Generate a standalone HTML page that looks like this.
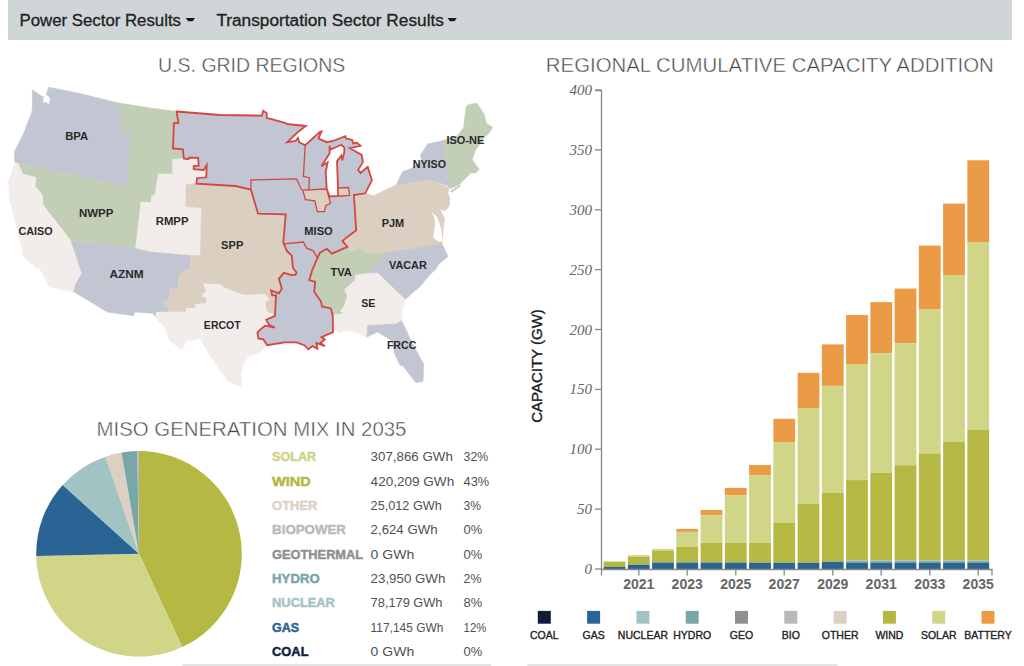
<!DOCTYPE html>
<html><head><meta charset="utf-8"><style>
html,body{margin:0;padding:0;background:#fff;width:1024px;height:666px;overflow:hidden;}
body{position:relative;font-family:"Liberation Sans",sans-serif;}
.nav{position:absolute;left:8px;top:0;width:1004px;height:40px;background:#d0d5d8;}
svg{position:absolute;left:0;top:0;}
.ml{font-family:"Liberation Sans",sans-serif;font-weight:bold;font-size:11px;fill:#2a2a2a;text-anchor:middle;}
.yt{font-family:"Liberation Serif",serif;font-style:italic;font-size:15px;fill:#666;text-anchor:end;}
.xt{font-family:"Liberation Sans",sans-serif;font-weight:bold;font-size:14px;fill:#666;text-anchor:middle;}
.lt{font-family:"Liberation Sans",sans-serif;font-size:10.5px;fill:#222;stroke:#222;stroke-width:0.35;text-anchor:middle;}
.tl{font-family:"Liberation Sans",sans-serif;font-weight:bold;font-size:12.6px;}
.tv{font-family:"Liberation Sans",sans-serif;font-size:13px;fill:#505050;}
.ttl{font-family:"Liberation Sans",sans-serif;font-size:20px;fill:#444;stroke:#fff;stroke-width:0.45px;text-anchor:middle;}
.navt{font-family:"Liberation Sans",sans-serif;font-size:16px;fill:#222;stroke:#222;stroke-width:0.3;}
</style></head><body>
<div class="nav"></div>
<svg width="1024" height="666" viewBox="0 0 1024 666">
<text x="19.5" y="26.2" class="navt" id="nav1" textLength="161.5" lengthAdjust="spacingAndGlyphs">Power Sector Results</text>
<path d="M185.8,17.9 L195,17.9 L192.7,21.3 L188.1,21.3 Z" fill="#1a1a1a"/>
<text x="216.4" y="26.2" class="navt" id="nav2" textLength="227.5" lengthAdjust="spacingAndGlyphs">Transportation Sector Results</text>
<path d="M447.6,17.9 L456.8,17.9 L454.5,21.3 L449.9,21.3 Z" fill="#1a1a1a"/>
<text x="251.7" y="71.9" class="ttl" id="t1" textLength="187.2" lengthAdjust="spacingAndGlyphs">U.S. GRID REGIONS</text>
<text x="769.8" y="71.7" class="ttl" id="t2" textLength="448" lengthAdjust="spacingAndGlyphs">REGIONAL CUMULATIVE CAPACITY ADDITION</text>
<text x="251.5" y="436.4" class="ttl" id="t3" textLength="309.8" lengthAdjust="spacingAndGlyphs">MISO GENERATION MIX IN 2035</text>
<text transform="translate(541.5,366) rotate(-90)" x="0" y="0" text-anchor="middle" style="font-family:'Liberation Sans',sans-serif;font-size:15px;fill:#1a1a1a;stroke:#1a1a1a;stroke-width:0.35;" id="ylab">CAPACITY (GW)</text>
<polygon points="32.4,89.9 42.5,96.5 45.5,97.5 48.6,87.2 80.0,93.5 116.2,102.5 122.5,116.9 119.8,120.5 124.3,134.0 131.5,133.2 133.3,139.5 128.8,142.2 129.7,159.3 126.1,187.2 14.9,162.0 14.4,152.0 23.4,134.0 31.5,113.0 32.4,108.8" fill="#c1c6d2" stroke="#c1c6d2" stroke-width="0.6"/><polygon points="116.2,102.5 150.0,108.0 176.6,111.5 178.4,123.2 173.9,123.2 173.0,148.5 182.9,149.4 183.8,158.4 172.5,159.5 172.8,174.0 158.4,174.0 154.8,195.3 151.8,195.9 150.9,202.8 141.0,202.2 135.7,248.5 71.2,241.2 43.2,205.3 42.0,194.4 34.8,186.0 36.0,177.6 22.8,174.0 18.0,163.2 14.9,162.0 126.1,187.2 129.7,159.3 128.8,142.2 133.3,139.5 131.5,133.2 124.3,134.0 119.8,120.5 122.5,116.9" fill="#c3ceb6" stroke="#c3ceb6" stroke-width="0.6"/><polygon points="18.0,163.2 22.8,174.0 36.0,177.6 34.8,186.0 42.0,194.4 43.2,205.3 71.2,241.2 82.0,273.6 76.0,283.2 73.6,291.7 49.6,286.8 40.0,268.8 36.0,267.7 22.8,255.7 21.6,246.0 15.6,222.0 13.2,212.5 9.6,200.4 8.4,181.2 10.8,175.2 14.4,165.0" fill="#f2edea" stroke="#f2edea" stroke-width="0.6"/><polygon points="172.5,159.5 183.8,158.4 188.3,159.3 189.2,157.5 198.2,157.8 198.7,165.6 193.7,166.1 193.7,169.2 203.6,170.1 206.7,165.0 206.3,177.3 196.9,178.2 196.4,183.6 186.0,184.8 186.0,206.5 201.6,207.7 200.4,255.7 190.2,255.6 150.0,252.1 135.7,248.5 141.0,202.2 150.9,202.8 151.8,195.9 154.8,195.3 158.4,174.0 172.8,174.0" fill="#f2edea" stroke="#f2edea" stroke-width="0.6"/><polygon points="71.2,241.2 135.7,248.5 150.0,252.1 190.2,255.6 190.2,268.8 185.3,270.0 179.3,274.8 178.1,288.0 169.7,289.2 168.5,300.0 163.7,301.3 164.9,306.0 168.5,307.3 168.5,312.0 156.5,312.0 155.3,316.9 152.9,313.3 134.9,312.0 133.7,315.7 107.3,312.0 73.6,291.7 76.0,283.2 82.0,273.6" fill="#c1c6d2" stroke="#c1c6d2" stroke-width="0.6"/><polygon points="186.0,184.8 196.4,183.6 235.3,186.0 250.9,189.6 258.1,213.7 285.7,214.4 283.3,242.5 286.9,250.9 291.7,255.7 292.9,267.7 296.5,272.5 295.5,274.9 290.6,274.9 283.8,272.9 278.9,278.8 281.8,288.6 278.9,293.4 271.1,290.5 272.1,295.4 276.0,295.4 275.0,315.9 266.2,311.0 265.2,302.2 269.1,299.3 265.2,294.4 245.7,295.4 235.9,292.5 224.2,287.6 220.3,284.6 203.7,283.7 206.6,292.5 202.7,293.4 202.7,296.4 206.6,297.3 206.6,303.2 195.9,304.2 194.9,308.1 186.1,308.1 186.1,312.0 168.5,312.0 168.5,307.3 164.9,306.0 163.7,301.3 168.5,300.0 169.7,289.2 178.1,288.0 179.3,274.8 185.3,270.0 190.2,268.8 190.2,255.6 200.4,255.7 201.6,207.7 186.0,206.5" fill="#dbcfc1" stroke="#dbcfc1" stroke-width="0.6"/><polygon points="156.5,312.0 168.5,312.0 186.1,312.0 186.1,308.1 194.9,308.1 195.9,304.2 206.6,303.2 206.6,297.3 202.7,296.4 202.7,293.4 206.6,292.5 203.7,283.7 220.3,284.6 224.2,287.6 235.9,292.5 245.7,295.4 265.2,294.4 269.1,299.3 265.2,302.2 266.2,311.0 275.0,315.9 266.2,319.8 269.1,324.7 275.0,327.6 265.2,325.7 261.3,328.6 257.4,332.5 258.4,338.4 263.3,339.3 267.2,345.2 259.4,352.0 247.7,356.9 242.8,365.7 240.8,375.5 241.8,387.2 228.1,381.3 219.3,369.6 208.6,353.0 200.0,338.5 186.5,340.9 181.7,349.3 169.7,340.9 164.9,327.7 155.3,316.9" fill="#f2edea" stroke="#f2edea" stroke-width="0.6"/><polygon points="353.9,195.1 365.3,193.3 373.6,195.7 383.2,190.9 396.5,184.9 433.8,179.5 438.3,183.3 449.2,187.8 447.9,192.9 449.8,198.0 449.2,205.7 446.6,209.5 444.1,210.8 439.6,208.8 444.7,219.1 443.4,227.4 442.1,241.4 442.1,244.6 388.4,252.7 365.9,253.7 361.0,247.9 355.2,250.8 350.3,251.8 347.4,246.9 342.5,241.0 344.5,239.1 356.2,230.3" fill="#dbcfc1" stroke="#dbcfc1" stroke-width="0.6"/><polygon points="396.5,184.9 400.1,176.5 402.5,171.7 412.1,168.1 421.7,160.9 420.5,154.9 427.7,144.1 443.3,140.4 445.7,159.7 449.3,172.9 450.5,188.5 448.1,186.1 430.1,179.4" fill="#c1c6d2" stroke="#c1c6d2" stroke-width="0.6"/><polygon points="443.3,140.4 457.7,135.6 463.7,127.2 466.1,106.8 468.5,104.4 476.9,103.2 484.1,114.0 486.5,123.6 492.6,127.2 490.1,132.0 484.1,138.0 475.7,150.1 472.1,159.7 479.3,169.3 475.7,172.9 470.9,172.9 458.9,184.9 450.5,188.5 449.3,172.9 445.7,159.7" fill="#c3ceb6" stroke="#c3ceb6" stroke-width="0.6"/><polygon points="347.4,246.9 350.3,251.8 355.2,250.8 361.0,247.9 365.9,253.7 388.4,252.7 376.7,262.5 368.9,273.2 355.2,275.2 355.2,280.1 344.5,289.8 347.4,295.7 344.5,305.5 340.5,311.3 345.4,313.3 332.7,315.2 330.8,308.4 322.0,306.4 321.0,301.6 314.2,291.8 315.2,282.0 309.3,280.1 312.2,270.3 317.1,258.6 320.0,252.7 326.9,248.8 331.8,253.7" fill="#c3ceb6" stroke="#c3ceb6" stroke-width="0.6"/><polygon points="388.4,252.7 442.1,243.9 448.0,256.6 438.2,264.5 436.3,268.4 428.4,276.2 420.6,285.9 405.0,299.6 377.7,273.2 368.9,273.2 376.7,262.5" fill="#c1c6d2" stroke="#c1c6d2" stroke-width="0.6"/><polygon points="355.2,275.2 368.9,273.2 377.7,273.2 405.0,299.6 402.4,309.8 401.6,320.5 396.6,323.9 367.7,325.5 366.9,337.1 357.8,332.9 346.2,330.5 338.8,332.9 336.3,329.6 333.0,332.1 332.7,315.2 345.4,313.3 340.5,311.3 344.5,305.5 347.4,295.7 344.5,289.8 355.2,280.1" fill="#f2edea" stroke="#f2edea" stroke-width="0.6"/><polygon points="367.7,325.5 396.6,323.9 401.6,320.5 409.0,336.2 415.6,349.4 423.8,364.3 423.0,381.6 415.6,382.5 403.2,366.0 399.9,365.1 394.1,352.7 392.5,341.2 377.6,332.1 366.9,337.1" fill="#c1c6d2" stroke="#c1c6d2" stroke-width="0.6"/><polygon points="430.7,212.0 433.8,215.9 435.1,223.5 433.8,233.7 433.2,237.6 438.3,241.6 442.3,241.6 441.5,229.9 439.6,223.5 437.0,217.1 434.0,214.0" fill="#fff"/><polygon points="43.5,97.5 47,95 50.5,98.5 48.5,104.5 46,101.5 43.5,103.5" fill="#fff"/><polygon points="450.0,191.5 459.5,185.0 461.5,185.5 452.0,192.5" fill="#c1c6d2"/><polygon points="176.6,111.5 220.0,115.0 262.0,115.6 263.2,110.8 266.8,113.2 266.8,118.0 271.7,119.2 284.9,122.8 287.3,124.0 305.8,126.0 298.0,132.0 287.2,142.2 295.6,141.0 298.0,138.0 299.2,142.2 305.2,145.2 319.7,132.0 321.5,131.4 318.5,138.6 326.9,142.2 332.9,141.0 345.5,136.2 346.1,138.6 352.1,139.8 353.3,143.4 356.9,142.8 360.5,145.8 349.7,148.2 361.7,154.9 362.9,162.1 358.1,169.9 360.5,172.9 367.7,166.9 371.9,180.1 365.3,193.3 353.9,195.1 356.2,230.3 344.5,239.1 342.5,241.0 347.4,246.9 331.8,253.7 326.9,248.8 320.0,252.7 317.1,258.6 312.2,270.3 309.3,280.1 315.2,282.0 314.2,291.8 321.0,301.6 322.0,306.4 330.8,308.4 332.7,315.2 333.0,332.1 321.5,337.1 324.8,339.5 320.6,342.8 324.8,346.1 316.5,342.8 317.3,348.6 312.4,346.1 308.3,349.4 304.3,345.2 296.5,342.3 284.8,342.3 267.2,345.2 263.3,339.3 258.4,338.4 257.4,332.5 261.3,328.6 265.2,325.7 275.0,327.6 269.1,324.7 266.2,319.8 275.0,315.9 276.0,295.4 272.1,295.4 271.1,290.5 278.9,293.4 281.8,288.6 278.9,278.8 283.8,272.9 290.6,274.9 295.5,274.9 296.5,272.5 292.9,267.7 291.7,255.7 286.9,250.9 283.3,242.5 285.7,214.4 258.1,213.7 250.9,189.6 235.3,186.0 196.4,183.6 196.9,178.2 206.3,177.3 206.7,165.0 203.6,170.1 193.7,169.2 193.7,166.1 198.7,165.6 198.2,157.8 189.2,157.5 188.3,159.3 183.8,158.4 182.9,149.4 173.0,148.5 173.9,123.2 178.4,123.2" fill="#c1c6d2" stroke="#d5463f" stroke-width="1.8" stroke-linejoin="miter"/><polygon points="329.6,145.7 330.6,149.6 341.4,144.8 344.3,147.7 344.3,152.1 342.3,160.4 341.4,155.5 337.0,161.4 338.0,187.7 338.4,196.0 329.6,196.5 326.7,188.7 325.7,172.1 327.7,162.3 321.3,166.3 329.6,153.6" fill="#fff" stroke="#d5463f" stroke-width="1.8"/><polygon points="302.9,190.1 326.7,189.0 330.5,203.3 325.7,205.7 324.5,211.7 317.3,211.7 314.9,200.9 305.3,199.7" fill="#dbcfc1" stroke="#d5463f" stroke-width="1.3"/><polygon points="338.0,188.0 348.5,187.5 349.5,195.3 338.4,196.2" fill="#dbcfc1" stroke="#d5463f" stroke-width="1.3"/><polyline points="250.9,189.6 250.9,180.0 296.5,178.8 301.7,190.1" fill="none" stroke="#d5463f" stroke-width="1.3"/><polyline points="305.2,145.2 303.4,176.5 309.4,177.7 308.8,190.1" fill="none" stroke="#d5463f" stroke-width="1.3"/><polyline points="283.9,243.9 303.4,242.0 306.4,247.9 313.2,250.8 318.1,258.6" fill="none" stroke="#d5463f" stroke-width="1.3"/><text x="76.6" y="139.9" class="ml" textLength="22.9" lengthAdjust="spacingAndGlyphs">BPA</text><text x="96.1" y="217" class="ml" textLength="34.4" lengthAdjust="spacingAndGlyphs">NWPP</text><text x="35.6" y="235" class="ml" textLength="34.2" lengthAdjust="spacingAndGlyphs">CAISO</text><text x="172.1" y="224.9" class="ml" textLength="32.8" lengthAdjust="spacingAndGlyphs">RMPP</text><text x="232.2" y="249.4" class="ml" textLength="22.2" lengthAdjust="spacingAndGlyphs">SPP</text><text x="126.6" y="278.2" class="ml" textLength="34.2" lengthAdjust="spacingAndGlyphs">AZNM</text><text x="222.3" y="329.3" class="ml" textLength="36.9" lengthAdjust="spacingAndGlyphs">ERCOT</text><text x="318.5" y="234.9" class="ml" textLength="28.4" lengthAdjust="spacingAndGlyphs">MISO</text><text x="392.9" y="227.4" class="ml" textLength="22.5" lengthAdjust="spacingAndGlyphs">PJM</text><text x="429.4" y="168" class="ml" textLength="33.2" lengthAdjust="spacingAndGlyphs">NYISO</text><text x="465.4" y="144.4" class="ml" textLength="37.9" lengthAdjust="spacingAndGlyphs">ISO-NE</text><text x="341.1" y="276.3" class="ml" textLength="21.3" lengthAdjust="spacingAndGlyphs">TVA</text><text x="407.9" y="269" class="ml" textLength="37.9" lengthAdjust="spacingAndGlyphs">VACAR</text><text x="368.3" y="306.5" class="ml" textLength="14.1" lengthAdjust="spacingAndGlyphs">SE</text><text x="401.6" y="348.8" class="ml" textLength="29.4" lengthAdjust="spacingAndGlyphs">FRCC</text>
<rect x="603.60" y="561.50" width="21.8" height="5.30" fill="#b5b944"/><rect x="603.60" y="566.80" width="21.8" height="2.20" fill="#2a6495"/><rect x="627.85" y="555.20" width="21.8" height="1.70" fill="#d1d587"/><rect x="627.85" y="556.90" width="21.8" height="7.80" fill="#b5b944"/><rect x="627.85" y="564.70" width="21.8" height="4.30" fill="#2a6495"/><rect x="652.10" y="548.90" width="21.8" height="1.90" fill="#d1d587"/><rect x="652.10" y="550.80" width="21.8" height="11.80" fill="#b5b944"/><rect x="652.10" y="562.60" width="21.8" height="6.40" fill="#2a6495"/><rect x="676.35" y="528.90" width="21.8" height="3.00" fill="#eb9b45"/><rect x="676.35" y="531.90" width="21.8" height="14.90" fill="#d1d587"/><rect x="676.35" y="546.80" width="21.8" height="15.80" fill="#b5b944"/><rect x="676.35" y="562.60" width="21.8" height="6.40" fill="#2a6495"/><rect x="700.60" y="510.00" width="21.8" height="5.30" fill="#eb9b45"/><rect x="700.60" y="515.30" width="21.8" height="27.50" fill="#d1d587"/><rect x="700.60" y="542.80" width="21.8" height="19.80" fill="#b5b944"/><rect x="700.60" y="562.60" width="21.8" height="6.40" fill="#2a6495"/><rect x="724.85" y="487.90" width="21.8" height="7.40" fill="#eb9b45"/><rect x="724.85" y="495.30" width="21.8" height="47.50" fill="#d1d587"/><rect x="724.85" y="542.80" width="21.8" height="19.80" fill="#b5b944"/><rect x="724.85" y="562.60" width="21.8" height="6.40" fill="#2a6495"/><rect x="749.10" y="465.00" width="21.8" height="10.40" fill="#eb9b45"/><rect x="749.10" y="475.40" width="21.8" height="67.50" fill="#d1d587"/><rect x="749.10" y="542.90" width="21.8" height="19.90" fill="#b5b944"/><rect x="749.10" y="562.80" width="21.8" height="6.20" fill="#2a6495"/><rect x="773.35" y="418.80" width="21.8" height="23.20" fill="#eb9b45"/><rect x="773.35" y="442.00" width="21.8" height="80.70" fill="#d1d587"/><rect x="773.35" y="522.70" width="21.8" height="40.10" fill="#b5b944"/><rect x="773.35" y="562.80" width="21.8" height="6.20" fill="#2a6495"/><rect x="797.60" y="372.80" width="21.8" height="35.20" fill="#eb9b45"/><rect x="797.60" y="408.00" width="21.8" height="96.00" fill="#d1d587"/><rect x="797.60" y="504.00" width="21.8" height="58.80" fill="#b5b944"/><rect x="797.60" y="562.80" width="21.8" height="6.20" fill="#2a6495"/><rect x="821.85" y="344.40" width="21.8" height="41.50" fill="#eb9b45"/><rect x="821.85" y="385.90" width="21.8" height="106.70" fill="#d1d587"/><rect x="821.85" y="492.60" width="21.8" height="69.20" fill="#b5b944"/><rect x="821.85" y="561.80" width="21.8" height="7.20" fill="#2a6495"/><rect x="846.10" y="315.00" width="21.8" height="49.00" fill="#eb9b45"/><rect x="846.10" y="364.00" width="21.8" height="116.10" fill="#d1d587"/><rect x="846.10" y="480.10" width="21.8" height="80.50" fill="#b5b944"/><rect x="846.10" y="560.60" width="21.8" height="1.90" fill="#86b0b3"/><rect x="846.10" y="562.50" width="21.8" height="6.50" fill="#2a6495"/><rect x="870.35" y="302.10" width="21.8" height="51.20" fill="#eb9b45"/><rect x="870.35" y="353.30" width="21.8" height="119.40" fill="#d1d587"/><rect x="870.35" y="472.70" width="21.8" height="87.90" fill="#b5b944"/><rect x="870.35" y="560.60" width="21.8" height="1.90" fill="#86b0b3"/><rect x="870.35" y="562.50" width="21.8" height="6.50" fill="#2a6495"/><rect x="894.60" y="288.60" width="21.8" height="54.60" fill="#eb9b45"/><rect x="894.60" y="343.20" width="21.8" height="122.00" fill="#d1d587"/><rect x="894.60" y="465.20" width="21.8" height="95.40" fill="#b5b944"/><rect x="894.60" y="560.60" width="21.8" height="1.90" fill="#86b0b3"/><rect x="894.60" y="562.50" width="21.8" height="6.50" fill="#2a6495"/><rect x="918.85" y="245.60" width="21.8" height="63.90" fill="#eb9b45"/><rect x="918.85" y="309.50" width="21.8" height="143.90" fill="#d1d587"/><rect x="918.85" y="453.40" width="21.8" height="107.20" fill="#b5b944"/><rect x="918.85" y="560.60" width="21.8" height="1.90" fill="#86b0b3"/><rect x="918.85" y="562.50" width="21.8" height="6.50" fill="#2a6495"/><rect x="943.10" y="203.60" width="21.8" height="72.00" fill="#eb9b45"/><rect x="943.10" y="275.60" width="21.8" height="166.20" fill="#d1d587"/><rect x="943.10" y="441.80" width="21.8" height="118.80" fill="#b5b944"/><rect x="943.10" y="560.60" width="21.8" height="1.90" fill="#86b0b3"/><rect x="943.10" y="562.50" width="21.8" height="6.50" fill="#2a6495"/><rect x="967.35" y="160.30" width="21.8" height="81.70" fill="#eb9b45"/><rect x="967.35" y="242.00" width="21.8" height="187.70" fill="#d1d587"/><rect x="967.35" y="429.70" width="21.8" height="130.90" fill="#b5b944"/><rect x="967.35" y="560.60" width="21.8" height="1.90" fill="#86b0b3"/><rect x="967.35" y="562.50" width="21.8" height="6.50" fill="#2a6495"/>
<path d="M595,90.5 H601.5 V569.5 M601.5,569.5 V575.5 M601.5,569.5 H992 V575.5" fill="none" stroke="#888" stroke-width="1.3"/><line x1="595" y1="569.0" x2="601.5" y2="569.0" stroke="#888" stroke-width="1.3"/><text x="592" y="574.0" class="yt">0</text><line x1="595" y1="509.1" x2="601.5" y2="509.1" stroke="#888" stroke-width="1.3"/><text x="592" y="514.1" class="yt">50</text><line x1="595" y1="449.2" x2="601.5" y2="449.2" stroke="#888" stroke-width="1.3"/><text x="592" y="454.2" class="yt">100</text><line x1="595" y1="389.4" x2="601.5" y2="389.4" stroke="#888" stroke-width="1.3"/><text x="592" y="394.4" class="yt">150</text><line x1="595" y1="329.5" x2="601.5" y2="329.5" stroke="#888" stroke-width="1.3"/><text x="592" y="334.5" class="yt">200</text><line x1="595" y1="269.6" x2="601.5" y2="269.6" stroke="#888" stroke-width="1.3"/><text x="592" y="274.6" class="yt">250</text><line x1="595" y1="209.8" x2="601.5" y2="209.8" stroke="#888" stroke-width="1.3"/><text x="592" y="214.8" class="yt">300</text><line x1="595" y1="149.9" x2="601.5" y2="149.9" stroke="#888" stroke-width="1.3"/><text x="592" y="154.9" class="yt">350</text><line x1="595" y1="90.0" x2="601.5" y2="90.0" stroke="#888" stroke-width="1.3"/><text x="592" y="95.0" class="yt">400</text><line x1="638.8" y1="569.5" x2="638.8" y2="575.5" stroke="#888" stroke-width="1.3"/><text x="638.8" y="588.6" class="xt">2021</text><line x1="687.2" y1="569.5" x2="687.2" y2="575.5" stroke="#888" stroke-width="1.3"/><text x="687.2" y="588.6" class="xt">2023</text><line x1="735.8" y1="569.5" x2="735.8" y2="575.5" stroke="#888" stroke-width="1.3"/><text x="735.8" y="588.6" class="xt">2025</text><line x1="784.2" y1="569.5" x2="784.2" y2="575.5" stroke="#888" stroke-width="1.3"/><text x="784.2" y="588.6" class="xt">2027</text><line x1="832.8" y1="569.5" x2="832.8" y2="575.5" stroke="#888" stroke-width="1.3"/><text x="832.8" y="588.6" class="xt">2029</text><line x1="881.2" y1="569.5" x2="881.2" y2="575.5" stroke="#888" stroke-width="1.3"/><text x="881.2" y="588.6" class="xt">2031</text><line x1="929.8" y1="569.5" x2="929.8" y2="575.5" stroke="#888" stroke-width="1.3"/><text x="929.8" y="588.6" class="xt">2033</text><line x1="978.2" y1="569.5" x2="978.2" y2="575.5" stroke="#888" stroke-width="1.3"/><text x="978.2" y="588.6" class="xt">2035</text>
<rect x="537.8" y="610.9" width="13" height="12.8" fill="#0d1f3c"/><text x="544.3" y="638.5" class="lt">COAL</text><rect x="587.1" y="610.9" width="13" height="12.8" fill="#2a6495"/><text x="593.6" y="638.5" class="lt">GAS</text><rect x="636.4" y="610.9" width="13" height="12.8" fill="#a2c3c3"/><text x="642.9" y="638.5" class="lt">NUCLEAR</text><rect x="685.7" y="610.9" width="13" height="12.8" fill="#79a7a7"/><text x="692.2" y="638.5" class="lt">HYDRO</text><rect x="735.0" y="610.9" width="13" height="12.8" fill="#8f9094"/><text x="741.5" y="638.5" class="lt">GEO</text><rect x="784.3" y="610.9" width="13" height="12.8" fill="#b8b9bc"/><text x="790.8" y="638.5" class="lt">BIO</text><rect x="833.6" y="610.9" width="13" height="12.8" fill="#dcd0c3"/><text x="840.1" y="638.5" class="lt">OTHER</text><rect x="882.9" y="610.9" width="13" height="12.8" fill="#b5b944"/><text x="889.4" y="638.5" class="lt">WIND</text><rect x="932.2" y="610.9" width="13" height="12.8" fill="#d1d587"/><text x="938.7" y="638.5" class="lt">SOLAR</text><rect x="981.5" y="610.9" width="13" height="12.8" fill="#eb9b45"/><text x="988.0" y="638.5" class="lt">BATTERY</text>
<path d="M139,553.8 L139.00,451.00 A102.8,102.8 0 0 1 182.19,647.09 Z" fill="#b5b944"/><path d="M139,553.8 L182.19,647.09 A102.8,102.8 0 0 1 36.22,555.90 Z" fill="#d1d587"/><path d="M139,553.8 L36.22,555.90 A102.8,102.8 0 0 1 62.71,484.90 Z" fill="#2a6495"/><path d="M139,553.8 L62.71,484.90 A102.8,102.8 0 0 1 105.45,456.63 Z" fill="#a2c3c3"/><path d="M139,553.8 L105.45,456.63 A102.8,102.8 0 0 1 121.48,452.50 Z" fill="#dcd0c3"/><path d="M139,553.8 L121.48,452.50 A102.8,102.8 0 0 1 137.26,451.01 Z" fill="#79a7a7"/><path d="M139,553.8 L137.26,451.01 A102.8,102.8 0 0 1 139.00,451.00 Z" fill="#b8b9bc"/>
<text x="272.1" y="461.1" class="tl" fill="#cfd385" stroke="#cfd385" stroke-width="0.45" textLength="44.1" lengthAdjust="spacingAndGlyphs">SOLAR</text><text x="370.6" y="461.1" class="tv" textLength="82.2" lengthAdjust="spacingAndGlyphs">307,866 GWh</text><text x="463.6" y="461.1" class="tv" textLength="24.6" lengthAdjust="spacingAndGlyphs">32%</text><text x="272.1" y="485.5" class="tl" fill="#b3b843" stroke="#b3b843" stroke-width="0.45" textLength="38.7" lengthAdjust="spacingAndGlyphs">WIND</text><text x="370.6" y="485.5" class="tv" textLength="83.6" lengthAdjust="spacingAndGlyphs">420,209 GWh</text><text x="463.6" y="485.5" class="tv" textLength="25.7" lengthAdjust="spacingAndGlyphs">43%</text><text x="272.1" y="509.9" class="tl" fill="#ddd1c4" stroke="#ddd1c4" stroke-width="0.45" textLength="45.3" lengthAdjust="spacingAndGlyphs">OTHER</text><text x="370.6" y="509.9" class="tv" textLength="71.2" lengthAdjust="spacingAndGlyphs">25,012 GWh</text><text x="463.6" y="509.9" class="tv" textLength="17.5" lengthAdjust="spacingAndGlyphs">3%</text><text x="272.1" y="534.3" class="tl" fill="#b9babd" stroke="#b9babd" stroke-width="0.45" textLength="73.8" lengthAdjust="spacingAndGlyphs">BIOPOWER</text><text x="370.6" y="534.3" class="tv" textLength="67.0" lengthAdjust="spacingAndGlyphs">2,624 GWh</text><text x="463.6" y="534.3" class="tv" textLength="18.7" lengthAdjust="spacingAndGlyphs">0%</text><text x="272.1" y="558.7" class="tl" fill="#8f9094" stroke="#8f9094" stroke-width="0.45" textLength="91.0" lengthAdjust="spacingAndGlyphs">GEOTHERMAL</text><text x="370.6" y="558.7" class="tv" textLength="43.6" lengthAdjust="spacingAndGlyphs">0 GWh</text><text x="463.6" y="558.7" class="tv" textLength="18.7" lengthAdjust="spacingAndGlyphs">0%</text><text x="272.1" y="583.1" class="tl" fill="#78a6a6" stroke="#78a6a6" stroke-width="0.45" textLength="47.6" lengthAdjust="spacingAndGlyphs">HYDRO</text><text x="370.6" y="583.1" class="tv" textLength="74.7" lengthAdjust="spacingAndGlyphs">23,950 GWh</text><text x="463.6" y="583.1" class="tv" textLength="18.0" lengthAdjust="spacingAndGlyphs">2%</text><text x="272.1" y="607.4" class="tl" fill="#a3c3c3" stroke="#a3c3c3" stroke-width="0.45" textLength="62.8" lengthAdjust="spacingAndGlyphs">NUCLEAR</text><text x="370.6" y="607.4" class="tv" textLength="71.9" lengthAdjust="spacingAndGlyphs">78,179 GWh</text><text x="463.6" y="607.4" class="tv" textLength="18.7" lengthAdjust="spacingAndGlyphs">8%</text><text x="272.1" y="631.8" class="tl" fill="#2a6495" stroke="#2a6495" stroke-width="0.45" textLength="27.0" lengthAdjust="spacingAndGlyphs">GAS</text><text x="370.6" y="631.8" class="tv" textLength="72.8" lengthAdjust="spacingAndGlyphs">117,145 GWh</text><text x="463.6" y="631.8" class="tv" textLength="22.7" lengthAdjust="spacingAndGlyphs">12%</text><text x="272.1" y="656.2" class="tl" fill="#0f2340" stroke="#0f2340" stroke-width="0.45" textLength="36.4" lengthAdjust="spacingAndGlyphs">COAL</text><text x="370.6" y="656.2" class="tv" textLength="43.6" lengthAdjust="spacingAndGlyphs">0 GWh</text><text x="463.6" y="656.2" class="tv" textLength="18.7" lengthAdjust="spacingAndGlyphs">0%</text>
<rect x="182" y="664" width="309.5" height="8" rx="3" fill="#e3e3e3"/>
<rect x="527" y="664" width="311" height="8" rx="3" fill="#e3e3e3"/>
</svg>
</body></html>
